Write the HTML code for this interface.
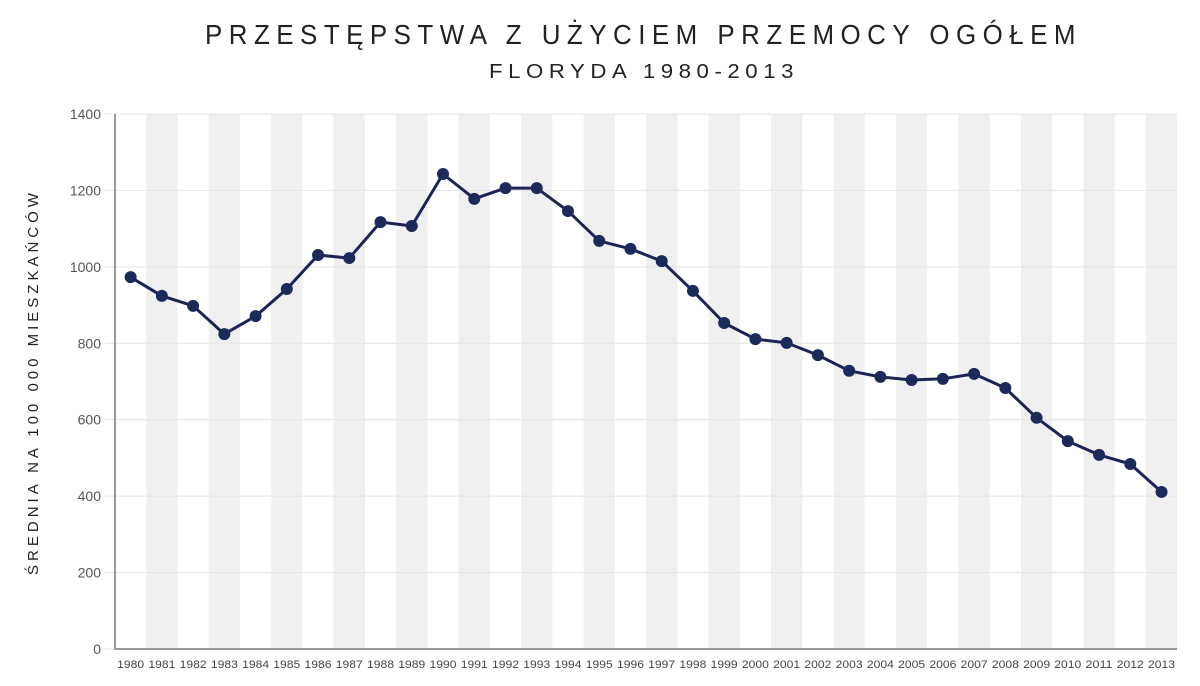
<!DOCTYPE html>
<html><head><meta charset="utf-8"><style>
body{margin:0;background:#fff;width:1200px;height:686px;overflow:hidden}
svg{display:block}
</style></head><body>
<svg id="c" width="1200" height="686" xmlns="http://www.w3.org/2000/svg" font-family="Liberation Sans, DejaVu Sans, sans-serif"></svg>
<script>
const d=[973,924,898,824,871,942,1031,1023,1117,1107,1243,1178,1206,1206,1146,1068,1047,1015,937,853,811,801,769,728,712,704,707,720,683,605,544,508,484,411];
const x0=115,w=31.24,yb=649,s=(649-114)/1400;
let h='';
for(let i=0;i<34;i++){if(i%2==1)h+=`<rect x="${x0+i*w}" y="114" width="${w}" height="535" fill="#f0f0f0"/>`;}
for(let v=0;v<=1400;v+=200){const y=yb-v*s;h+=`<line x1="105" x2="1177" y1="${y}" y2="${y}" stroke="#e4e4e4" stroke-width="1"/><text x="101" y="${y+5}" font-size="14" fill="#555" text-anchor="end">${v}</text>`;}
h+=`<line x1="115" x2="115" y1="114" y2="650" stroke="#999" stroke-width="2"/><line x1="114" x2="1177" y1="649" y2="649" stroke="#999" stroke-width="2"/>`;
let p='';
d.forEach((v,i)=>{const x=x0+(i+0.5)*w,y=yb-v*s;p+=(i?'L':'M')+x.toFixed(1)+' '+y.toFixed(1);
h+=`<text x="${x}" y="668" font-size="11" fill="#444" text-anchor="middle" textLength="27" lengthAdjust="spacingAndGlyphs">${1980+i}</text>`;});
h+=`<path d="${p}" fill="none" stroke="#1c2456" stroke-width="3" stroke-linejoin="round"/>`;
d.forEach((v,i)=>{const x=x0+(i+0.5)*w,y=yb-v*s;h+=`<circle cx="${x}" cy="${y}" r="6" fill="#1c2a5a"/>`;});
h+=`<text x="205" y="44" font-size="28" fill="#222" letter-spacing="7" textLength="877" lengthAdjust="spacingAndGlyphs">PRZESTĘPSTWA Z UŻYCIEM PRZEMOCY OGÓŁEM</text>`;
h+=`<text x="489" y="78" font-size="20" fill="#222" letter-spacing="5" textLength="310" lengthAdjust="spacingAndGlyphs">FLORYDA 1980-2013</text>`;
h+=`<text transform="translate(38,382) rotate(-90)" font-size="15" fill="#222" text-anchor="middle" letter-spacing="4">ŚREDNIA NA 100 000 MIESZKAŃCÓW</text>`;
document.getElementById('c').innerHTML=h;
</script>
</body></html>
